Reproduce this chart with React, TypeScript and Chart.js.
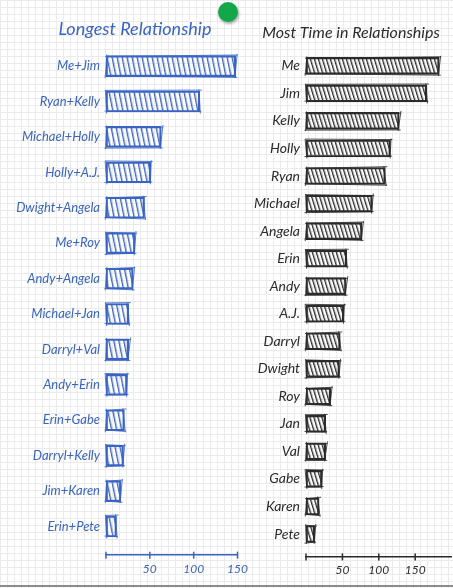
import React, { useEffect, useRef } from 'react';
import { Chart, registerables } from 'chart.js';
Chart.register(...registerables);

const couples = ['Me+Jim', 'Ryan+Kelly', 'Michael+Holly', 'Holly+A.J.', 'Dwight+Angela', 'Me+Roy', 'Andy+Angela', 'Michael+Jan', 'Darryl+Val', 'Andy+Erin', 'Erin+Gabe', 'Darryl+Kelly', 'Jim+Karen', 'Erin+Pete'];
const coupleLengths = [148, 107, 63, 51, 44, 33, 31, 26, 26, 24, 21, 20, 17, 12];
const people = ['Me', 'Jim', 'Kelly', 'Holly', 'Ryan', 'Michael', 'Angela', 'Erin', 'Andy', 'A.J.', 'Darryl', 'Dwight', 'Roy', 'Jan', 'Val', 'Gabe', 'Karen', 'Pete'];
const personTotals = [183, 166, 128, 116, 109, 91, 77, 56, 55, 52, 47, 46, 34, 27, 27, 22, 18, 12];
const leftTitle = 'Longest Relationship';
const rightTitle = 'Most Time in Relationships';
const leftMax = 150;
const rightMax = 200;
const tickStep = 50;

const BLUE = '#3a64c4';
const INK = '#2b2b2b';
const FONT = 'Lato, "Open Sans", sans-serif';

// small fixed wobble offsets for the hand-drawn look (style only)
const WOBBLE = [
  [0.8, 0.6, 1.4],
  [-0.6, 0.9, -1.0],
  [0.5, -0.7, 1.8],
  [-0.9, 0.4, 0.6],
  [0.7, 0.8, -1.5],
  [-0.4, -0.6, 1.1],
];

function makeHatch(ctx: CanvasRenderingContext2D, color: string, spacing: number, skew: number, lw: number) {
  const c = document.createElement('canvas');
  c.width = spacing;
  c.height = 4;
  const g = c.getContext('2d')!;
  g.fillStyle = color;
  g.fillRect(0, 0, lw, 4);
  const p = ctx.createPattern(c, 'repeat')!;
  p.setTransform(new DOMMatrix([1, 0, skew, 1, 0, 0]));
  return p;
}

const crossTicks = {
  id: 'crossTicks',
  afterLayout(chart: any) {
    // let the category labels run past the padded edge without being clipped
    chart.scales.y.left = 0;
  },
  afterDraw(chart: any, _args: any, opts: any) {
    const x = chart.scales.x;
    const y = chart.scales.y.getPixelForValue(opts.at);
    const ctx = chart.ctx;
    ctx.save();
    ctx.strokeStyle = opts.color;
    ctx.lineWidth = 1.5;
    for (const t of x.ticks) {
      if (t.value > opts.limit) continue;
      const px = x.getPixelForValue(t.value);
      ctx.beginPath();
      ctx.moveTo(px, y - 3.5);
      ctx.lineTo(px, y + 3.5);
      ctx.stroke();
    }
    ctx.restore();
  },
};

const sketch = {
  id: 'sketch',
  afterDatasetsDraw(chart: any, _args: any, opts: any) {
    const meta = chart.getDatasetMeta(0);
    const ctx = chart.ctx;
    ctx.save();
    ctx.strokeStyle = opts.color;
    ctx.lineWidth = 1;
    ctx.globalAlpha = 0.85;
    meta.data.forEach((bar: any, i: number) => {
      const { x, y, base, height } = bar.getProps(['x', 'y', 'base', 'height'], true);
      const top = y - height / 2;
      const bot = y + height / 2;
      const j = WOBBLE[i % WOBBLE.length];
      ctx.beginPath();
      ctx.moveTo(base - 1, top + j[0]);
      ctx.lineTo(x + 2, top - j[1]);
      ctx.moveTo(x + j[2], top - 1.5);
      ctx.lineTo(x - j[2] * 0.6, bot + 1.5);
      ctx.moveTo(base - 1.5, bot - j[1]);
      ctx.lineTo(x + 1.5, bot + j[0]);
      ctx.moveTo(base + j[0], top - 1);
      ctx.lineTo(base - j[0], bot + 1.5);
      ctx.stroke();
    });
    ctx.restore();
  },
};

type PanelProps = {
  labels: string[];
  values: number[];
  title: string;
  max: number;
  color: string;
  left: number;
  width: number;
  pad: { left: number; right: number; bottom: number };
  yWidth: number;
  titleSize: number;
  titlePad: { top: number; bottom: number };
  labelSize: number;
  barThickness: number;
  axisAt: number;
  tickPad: number;
  tickLimit: number;
  hatch: { spacing: number; skew: number; lw: number };
};

function Panel(p: PanelProps) {
  const ref = useRef<HTMLCanvasElement>(null);
  useEffect(() => {
    const canvas = ref.current!;
    const ctx = canvas.getContext('2d')!;
    const pattern = makeHatch(ctx, p.color, p.hatch.spacing, p.hatch.skew, p.hatch.lw);
    const chart = new Chart(canvas, {
      type: 'bar',
      data: {
        labels: p.labels,
        datasets: [
          {
            data: p.values,
            backgroundColor: pattern as any,
            borderColor: p.color,
            borderWidth: 1.5,
            borderSkipped: false,
            barThickness: p.barThickness,
          },
        ],
      },
      plugins: [crossTicks as any, sketch as any],
      options: {
        indexAxis: 'y',
        animation: false,
        responsive: false,
        maintainAspectRatio: false,
        layout: { padding: { left: p.pad.left, right: p.pad.right, top: 0, bottom: p.pad.bottom } },
        plugins: {
          legend: { display: false },
          tooltip: { enabled: false },
          title: {
            display: true,
            text: p.title,
            color: p.color,
            font: { family: FONT, size: p.titleSize, style: 'italic', weight: 'normal' },
            padding: p.titlePad,
          },
          crossTicks: { at: p.axisAt, color: p.color, limit: p.tickLimit },
          sketch: { color: p.color },
        } as any,
        scales: {
          y: {
            type: 'category',
            grid: { display: false, drawTicks: false },
            border: { display: false },
            ticks: { color: p.color, font: { family: FONT, size: p.labelSize, style: 'italic' }, padding: 6 },
            afterFit: (s: any) => {
              s.width = p.yWidth;
              s.paddingTop = 0;
              s.paddingBottom = 0;
            },
          },
          x: {
            type: 'linear',
            min: 0,
            max: p.max,
            position: { y: p.axisAt } as any,
            grid: { display: false, drawTicks: false },
            border: { display: true, color: p.color, width: 1.5 },
            ticks: {
              stepSize: tickStep,
              color: p.color,
              font: { family: FONT, size: 12, style: 'italic' },
              padding: p.tickPad,
              callback: (v: any) => (v === 0 || v > p.tickLimit ? '' : String(v)),
            },
            afterFit: (s: any) => {
              s.paddingLeft = 0;
              s.paddingRight = 0;
            },
          },
        },
      },
    });
    return () => chart.destroy();
  }, []);
  return (
    <canvas
      ref={ref}
      width={p.width}
      height={588}
      style={{ position: 'absolute', left: p.left, top: 0, width: p.width, height: 588 }}
    />
  );
}

export default function App() {
  return (
    <div
      style={{
        position: 'fixed',
        left: 0,
        top: 0,
        width: 453,
        height: 588,
        overflow: 'hidden',
        backgroundColor: '#ffffff',
        backgroundImage:
          'linear-gradient(#ebebeb 1px, transparent 1px), linear-gradient(90deg, #ebebeb 1px, transparent 1px)',
        backgroundSize: '7px 7px',
      }}
    >
      <Panel
        labels={couples}
        values={coupleLengths}
        title={leftTitle}
        max={leftMax}
        color={BLUE}
        left={0}
        width={262}
        pad={{ left: 32.5, right: 24.5, bottom: 43.8 }}
        yWidth={73.5}
        titleSize={18}
        titlePad={{ top: 18.2, bottom: 8.6 }}
        labelSize={13}
        barThickness={21}
        axisAt={13.81}
        tickPad={6.8}
        tickLimit={150}
        hatch={{ spacing: 5.8, skew: 0.2, lw: 1.4 }}
      />
      <Panel
        labels={people}
        values={personTotals}
        title={rightTitle}
        max={rightMax}
        color={INK}
        left={240}
        width={213}
        pad={{ left: 10.4, right: 1.4, bottom: 40.2 }}
        yWidth={55.6}
        titleSize={16}
        titlePad={{ top: 23.4, bottom: 9.5 }}
        labelSize={14}
        barThickness={17}
        axisAt={17.83}
        tickPad={5.8}
        tickLimit={150}
        hatch={{ spacing: 4.8, skew: 0.3, lw: 1.4 }}
      />
      <div
        style={{
          position: 'absolute',
          left: 218,
          top: 2,
          width: 20,
          height: 20,
          borderRadius: '50%',
          background: '#12a84a',
          boxShadow: '1px 2px 3px rgba(0,0,0,0.35)',
        }}
      />
      <div style={{ position: 'absolute', left: 0, top: 585, width: 453, height: 2, background: '#8c8c8c' }} />
    </div>
  );
}
